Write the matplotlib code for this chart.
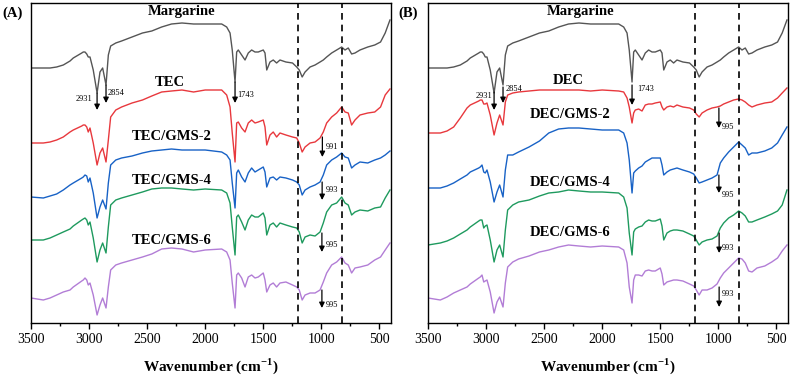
import matplotlib
matplotlib.use("Agg")
import matplotlib.pyplot as plt
import numpy as np

plt.rcParams['font.family'] = ['Liberation Serif', 'DejaVu Serif']
plt.rcParams['mathtext.fontset'] = 'custom'
plt.rcParams['mathtext.rm'] = 'Liberation Serif'
plt.rcParams['mathtext.bf'] = 'Liberation Serif:bold'

# ---------------- data ----------------
wavenumber = [3500, 3394, 3336, 3279, 3222, 3164, 3136, 3063, 3050, 3035,
              3020, 3007, 2992, 2964, 2931, 2906, 2883, 2854, 2834, 2814,
              2770, 2720, 2630, 2540, 2460, 2375, 2290, 2200, 2100, 2000,
              1858, 1815, 1786, 1767, 1743, 1729, 1715, 1686, 1657, 1629,
              1600, 1571, 1543, 1500, 1485, 1470, 1442, 1414, 1385, 1356,
              1305, 1248, 1212, 1190, 1165, 1140, 1097, 1054, 1011, 983,
              954, 911, 868, 825, 796, 768, 739, 710, 667, 600,
              540, 490, 450, 409]

margarine = [332, 332, 332, 333, 335, 339, 342, 347, 348, 348,
             346, 343, 343, 330, 307, 328, 332, 315, 345, 354,
             357, 359, 363, 367, 369, 373, 376, 377, 376, 376,
             376, 373, 367, 350, 318, 348, 350, 345, 340, 347,
             350, 348, 348, 350, 347, 330, 338, 340, 337, 340,
             338, 337, 333, 330, 323, 328, 333, 335, 338, 340,
             343, 347, 350, 353, 350, 352, 346, 347, 350, 353,
             355, 358, 367, 380]

tec = [257, 257, 258, 260, 263, 268, 270, 274, 275, 275,
       273, 268, 272, 257, 235, 247, 252, 238, 260, 283,
       290, 293, 297, 300, 304, 308, 309, 310, 308, 310,
       310, 305, 293, 267, 238, 277, 278, 272, 268, 277,
       280, 277, 278, 280, 273, 255, 265, 268, 263, 267,
       265, 263, 262, 257, 248, 253, 257, 258, 262, 268,
       277, 283, 287, 293, 288, 287, 275, 280, 285, 287,
       288, 293, 305, 311]

tec_gms2 = [203, 202, 204, 206, 210, 215, 217, 222, 223, 225,
            224, 218, 222, 207, 182, 193, 200, 191, 217, 235,
            240, 242, 244, 247, 249, 250, 251, 250, 250, 250,
            248, 245, 240, 217, 192, 227, 230, 223, 218, 227,
            232, 228, 230, 233, 228, 213, 222, 223, 220, 223,
            222, 220, 218, 215, 205, 210, 213, 215, 218, 225,
            235, 240, 243, 247, 243, 242, 232, 235, 238, 237,
            240, 242, 245, 249]

tec_gms4 = [160, 160, 162, 165, 168, 171, 174, 180, 181, 182,
            180, 175, 178, 162, 138, 150, 157, 147, 173, 195,
            200, 202, 205, 208, 211, 212, 212, 211, 210, 211,
            210, 207, 197, 173, 145, 183, 185, 178, 170, 180,
            185, 183, 183, 187, 182, 165, 175, 177, 173, 177,
            175, 173, 172, 168, 157, 163, 165, 164, 168, 177,
            188, 195, 197, 203, 197, 195, 185, 188, 190, 189,
            192, 193, 202, 210]

tec_gms6 = [102, 100, 102, 105, 108, 110, 113, 119, 120, 122,
            120, 115, 117, 105, 85, 95, 102, 92, 113, 130,
            135, 137, 140, 143, 146, 151, 152, 151, 148, 150,
            151, 148, 140, 117, 92, 125, 127, 122, 113, 123,
            125, 122, 123, 127, 120, 108, 115, 117, 113, 117,
            118, 115, 113, 110, 100, 105, 107, 107, 110, 118,
            127, 135, 138, 143, 137, 135, 127, 132, 133, 135,
            140, 143, 150, 157]

dec = [267, 267, 269, 273, 282, 292, 295, 299, 300, 300,
       296, 296, 297, 285, 265, 277, 285, 275, 298, 305,
       307, 308, 309, 310, 310, 310, 310, 310, 309, 310,
       309, 308, 302, 293, 277, 287, 290, 291, 289, 295,
       296, 296, 297, 298, 293, 290, 293, 294, 293, 295,
       293, 292, 290, 286, 283, 287, 290, 292, 293, 294,
       296, 298, 300, 301, 300, 298, 295, 293, 295, 297,
       298, 302, 307, 312]

dec_gms2 = [212, 212, 214, 217, 221, 225, 228, 232, 233, 235,
            228, 227, 230, 218, 198, 208, 215, 203, 230, 245,
            245, 248, 253, 259, 267, 271, 272, 272, 271, 270,
            270, 267, 257, 240, 207, 227, 229, 232, 234, 238,
            240, 242, 242, 242, 235, 225, 228, 230, 231, 232,
            230, 228, 226, 222, 217, 218, 220, 222, 225, 237,
            242, 248, 253, 258, 255, 252, 245, 247, 247, 249,
            252, 257, 265, 273]

dec_gms4 = [155, 157, 159, 162, 166, 170, 173, 179, 180, 180,
            172, 174, 175, 160, 138, 150, 155, 143, 170, 190,
            195, 198, 200, 204, 207, 208, 210, 209, 208, 208,
            207, 203, 192, 167, 145, 168, 171, 173, 174, 178,
            180, 179, 179, 181, 174, 160, 167, 169, 170, 170,
            169, 166, 164, 160, 155, 158, 160, 161, 164, 172,
            177, 182, 185, 189, 187, 184, 178, 178, 180, 183,
            186, 189, 195, 210]

dec_gms6 = [102, 100, 103, 107, 110, 113, 116, 122, 123, 125,
            118, 119, 120, 108, 87, 98, 103, 93, 117, 133,
            138, 141, 144, 148, 150, 153, 155, 154, 153, 154,
            153, 150, 137, 113, 97, 120, 125, 125, 124, 129,
            130, 129, 129, 132, 126, 115, 118, 119, 120, 120,
            119, 116, 114, 110, 105, 110, 110, 112, 116, 122,
            127, 132, 137, 142, 141, 137, 129, 128, 132, 134,
            138, 142, 149, 155]

names_a = ['Margarine', 'TEC', 'TEC/GMS-2', 'TEC/GMS-4', 'TEC/GMS-6']
names_b = ['Margarine', 'DEC', 'DEC/GMS-2', 'DEC/GMS-4', 'DEC/GMS-6']
series_a = [margarine, tec, tec_gms2, tec_gms4, tec_gms6]
series_b = [margarine, dec, dec_gms2, dec_gms4, dec_gms6]
colors = ['#555555', '#E8383D', '#1862C6', '#1E9A5E', '#B27DD6']

# label positions (wavenumber, transmittance)
label_pos_a = [(2200, 388), (2303, 318), (2286, 264), (2286, 220), (2286, 160)]
label_pos_b = [(2183, 388), (2294, 320), (2277, 285), (2277, 218), (2277, 167)]

# peak annotations: (text, x, y_start, y_end, text_x, text_y, ha)
peaks_a = [('2931', 2931, 307, 290, 2975, 301, 'right'),
           ('2854', 2854, 315, 297, 2837, 307, 'left'),
           ('1743', 1743, 318, 297, 1726, 305, 'left'),
           ('991', 991, 263, 243, 960, 253, 'left'),
           ('993', 993, 218, 200, 960, 210, 'left'),
           ('995', 995, 167, 148, 960, 155, 'left'),
           ('995', 995, 110, 92, 960, 95, 'left')]
peaks_b = [('2931', 2931, 308, 290, 2945, 304, 'right'),
           ('2854', 2854, 313, 297, 2828, 311, 'left'),
           ('1743', 1743, 315, 295, 1700, 311, 'left'),
           ('995', 995, 292, 272, 968, 273, 'left'),
           ('995', 995, 225, 207, 968, 205, 'left'),
           ('993', 993, 167, 147, 968, 152, 'left'),
           ('993', 993, 113, 93, 968, 106, 'left')]

dashed_lines = [1200, 820]
xticks = [3500, 3000, 2500, 2000, 1500, 1000, 500]

# ---------------- figure ----------------
W, H = 790, 379
fig = plt.figure(figsize=(W / 100, H / 100), dpi=100)
ax_a = fig.add_axes([31 / W, (379 - 323) / H, 360 / W, 320.3 / H])
ax_b = fig.add_axes([428 / W, (379 - 323) / H, 360 / W, 320.3 / H])

for ax, series, names, lpos, peaks in [(ax_a, series_a, names_a, label_pos_a, peaks_a),
                                       (ax_b, series_b, names_b, label_pos_b, peaks_b)]:
    for s, c in zip(series, colors):
        ax.plot(wavenumber, s, color=c, lw=1.0)
    for name, (lx, ly) in zip(names, lpos):
        ax.text(lx, ly, name, ha='center', va='center', fontsize=10.5,
                fontweight='bold', color='black')
    for txt, px, y0, y1, tx, ty, ha in peaks:
        ax.annotate('', xy=(px, y1), xytext=(px, y0),
                    arrowprops=dict(arrowstyle='-|>', color='black', lw=0.9,
                                    mutation_scale=8, shrinkA=0, shrinkB=0))
        ax.text(tx, ty, txt, ha=ha, va='center', fontsize=6)
    for d in dashed_lines:
        ax.axvline(d, color='black', lw=1.2, ls=(0, (4, 3)))
    ax.set_xlim(3500, 400)
    ax.set_ylim(77, 397.3)
    ax.set_yticks([])
    ax.set_xticks(xticks)
    ax.set_xticks(np.arange(3250, 400, -500), minor=True)
    ax.tick_params(axis='x', which='major', direction='out', length=4, width=1,
                   labelsize=10, pad=3)
    ax.tick_params(axis='x', which='minor', direction='out', length=2.5, width=1)
    for sp in ax.spines.values():
        sp.set_linewidth(1.0)
    ax.set_xlabel('Wavenumber (cm$^{\\mathbf{-1}}$)', fontsize=11,
                  fontweight='bold', labelpad=8)

fig.text(2 / W, 1 - 13 / H, '(A)', fontsize=10.5, fontweight='bold',
         ha='left', va='center')
fig.text(398 / W, 1 - 13 / H, '(B)', fontsize=10.5, fontweight='bold',
         ha='left', va='center')

fig.savefig('out.png', dpi=100)
